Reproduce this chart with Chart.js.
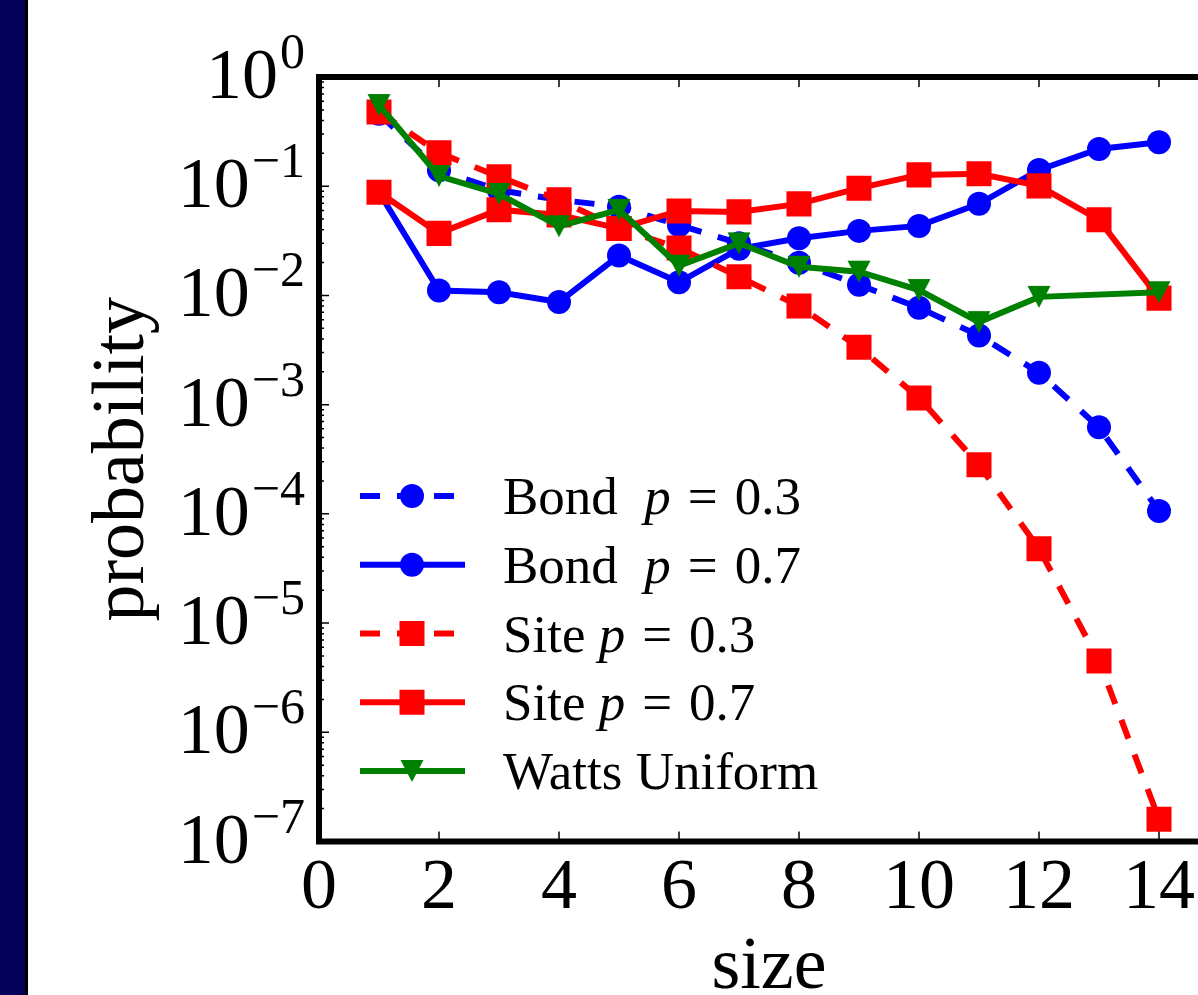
<!DOCTYPE html>
<html>
<head>
<meta charset="utf-8">
<script src="https://cdn.jsdelivr.net/npm/chart.js@4.4.0/dist/chart.umd.min.js"></script>
<style>
  html, body { margin: 0; padding: 0; background: #fff; overflow: hidden; }
  #wrap { position: relative; width: 1198px; height: 995px; overflow: hidden; }
  #sidebar { position: absolute; left: 0; top: 0; width: 25px; height: 995px; background: #03005a; border-right: 3px solid #000; }
  canvas { position: absolute; left: 0; top: 0; }
</style>
</head>
<body>
<div id="wrap">
  <canvas id="sizeChart" width="1260" height="995"></canvas>
  <div id="sidebar"></div>
</div>
<script>
// values (log y axis)
const sizes = [1, 2, 3, 4, 5, 6, 7, 8, 9, 10, 11, 12, 13, 14];
const bondP03 = [0.46, 0.14, 0.092, 0.075, 0.065, 0.044, 0.03, 0.0199, 0.0125, 0.0077, 0.0043, 0.00196, 0.00062, 0.000106];
const bondP07 = [0.088, 0.0111, 0.0107, 0.0087, 0.0232, 0.0132, 0.0267, 0.0334, 0.039, 0.0433, 0.069, 0.141, 0.219, 0.253];
const siteP03 = [0.479, 0.202, 0.122, 0.075, 0.041, 0.0272, 0.0148, 0.008, 0.00335, 0.00115, 0.000282, 0.0000479, 0.0000045, 1.6e-7];
const siteP07 = [0.088, 0.037, 0.061, 0.0546, 0.041, 0.0594, 0.0582, 0.0689, 0.096, 0.127, 0.130, 0.1007, 0.0492, 0.00945];
const wattsUniform = [0.554, 0.124, 0.085, 0.043, 0.0607, 0.0187, 0.030, 0.0183, 0.0165, 0.0112, 0.0057, 0.0097, null, 0.0107];

const xTicks = [0, 2, 4, 6, 8, 10, 12, 14];
const yTickExps = [0, -1, -2, -3, -4, -5, -6, -7];
const legendLabels = ['Bond  $p = 0.3$', 'Bond  $p = 0.7$', 'Site $p = 0.3$', 'Site $p = 0.7$', 'Watts Uniform'];

const FONT = '"Liberation Serif", "Times New Roman", serif';

// matplotlib style 'v' marker
function makeTriangle(color) {
  const c = document.createElement('canvas');
  c.width = 24; c.height = 24;
  const g = c.getContext('2d');
  g.fillStyle = color;
  g.beginPath();
  g.moveTo(0.5, 1); g.lineTo(23.5, 1); g.lineTo(12, 23);
  g.closePath();
  g.fill();
  return c;
}
const greenTri = makeTriangle('#008000');

function series(data, color, style, dashed, order) {
  return {
    data: data,
    borderColor: color,
    backgroundColor: color,
    pointBackgroundColor: color,
    pointBorderWidth: 0,
    pointStyle: style,
    pointRadius: style === 'rect' ? 17.7 : 12,
    borderWidth: 6,
    borderDash: dashed ? [20, 17] : [],
    tension: 0,
    spanGaps: true,
    order: order
  };
}

const datasets = [
  series(bondP03, '#0000ff', 'circle', true, 4),
  series(bondP07, '#0000ff', 'circle', false, 3),
  series(siteP03, '#ff0000', 'rect', true, 2),
  series(siteP07, '#ff0000', 'rect', false, 1),
  series(wattsUniform, '#008000', greenTri, false, 0)
];

// axes, ticks, labels and legend drawn the matplotlib way
const mplAxes = {
  id: 'mplAxes',
  afterDraw(chart) {
    const ctx = chart.ctx;
    const { left, right, top, bottom } = chart.chartArea;
    const xs = chart.scales.x, ys = chart.scales.y;
    ctx.save();
    ctx.strokeStyle = '#000';
    ctx.fillStyle = '#000';

    // inward ticks
    ctx.lineWidth = 1.5;
    ctx.beginPath();
    xTicks.forEach(v => {
      const px = xs.getPixelForValue(v);
      ctx.moveTo(px, bottom); ctx.lineTo(px, bottom - 10);
      ctx.moveTo(px, top); ctx.lineTo(px, top + 10);
    });
    yTickExps.forEach(e => {
      const py = ys.getPixelForValue(Math.pow(10, e));
      ctx.moveTo(left, py); ctx.lineTo(left + 10, py);
      ctx.moveTo(right, py); ctx.lineTo(right - 10, py);
      if (e > -7) {
        for (let m = 2; m <= 9; m++) {
          const pm = ys.getPixelForValue(m * Math.pow(10, e - 1));
          ctx.moveTo(left, pm); ctx.lineTo(left + 5, pm);
          ctx.moveTo(right, pm); ctx.lineTo(right - 5, pm);
        }
      }
    });
    ctx.stroke();

    // spines
    ctx.lineWidth = 6;
    ctx.strokeRect(left, top, right - left, bottom - top);

    // x tick labels
    ctx.textBaseline = 'alphabetic';
    ctx.textAlign = 'center';
    ctx.font = '72px ' + FONT;
    xTicks.forEach(v => ctx.fillText(String(v), xs.getPixelForValue(v), bottom + 66));

    // y tick labels 10^e
    yTickExps.forEach(e => {
      const py = ys.getPixelForValue(Math.pow(10, e));
      const expText = e === 0 ? '0' : '\u2212' + Math.abs(e);
      ctx.textAlign = 'right';
      ctx.font = '50px ' + FONT;
      ctx.fillText(expText, left - 14, py - 9);
      const w = ctx.measureText(expText).width;
      ctx.font = '72px ' + FONT;
      ctx.fillText('10', left - 14 - w - 2, py + 21);
    });

    // axis titles
    ctx.font = '74px ' + FONT;
    ctx.textAlign = 'center';
    ctx.fillText('size', (left + right) / 2, 988);
    ctx.save();
    ctx.translate(143, (top + bottom) / 2);
    ctx.rotate(-Math.PI / 2);
    ctx.fillText('probability', 0, 0);
    ctx.restore();

    // legend
    const rowY0 = 496, rowStep = 68.75;
    const lineX0 = 360, lineX1 = 465, markX = 412, textX = 503;
    datasets.forEach((ds, i) => {
      const y = rowY0 + i * rowStep;
      ctx.strokeStyle = ds.borderColor;
      ctx.lineWidth = ds.borderWidth;
      ctx.setLineDash(ds.borderDash);
      ctx.beginPath();
      ctx.moveTo(lineX0, y); ctx.lineTo(lineX1, y);
      ctx.stroke();
      ctx.setLineDash([]);
      ctx.fillStyle = ds.borderColor;
      if (ds.pointStyle === 'circle') {
        ctx.beginPath(); ctx.arc(markX, y, 12, 0, Math.PI * 2); ctx.fill();
      } else if (ds.pointStyle === 'rect') {
        ctx.fillRect(markX - 12.5, y - 12.5, 25, 25);
      } else {
        ctx.drawImage(ds.pointStyle, markX - 12, y - 12);
      }

      ctx.fillStyle = '#000';
      ctx.textAlign = 'left';
      const parts = legendLabels[i].split('$');
      let tx = textX;
      const base = y + 18;
      ctx.font = '53px ' + FONT;
      ctx.fillText(parts[0], tx, base);
      tx += ctx.measureText(parts[0]).width;
      if (parts[1]) {
        parts[1].split(' ').forEach(tok => {
          ctx.font = (/^[a-z]$/.test(tok) ? 'italic ' : '') + '53px ' + FONT;
          ctx.fillText(tok, tx, base);
          tx += ctx.measureText(tok).width + 17;
        });
      }
    });
    ctx.restore();
  }
};

const config = {
  type: 'line',
  data: { labels: sizes, datasets: datasets },
  options: {
    responsive: false,
    animation: false,
    devicePixelRatio: 1,
    layout: { padding: { left: 319, top: 77, right: 41, bottom: 153.5 } },
    plugins: { legend: { display: false }, tooltip: { enabled: false } },
    scales: {
      x: { type: 'linear', min: 0, max: 15, display: false },
      y: { type: 'logarithmic', min: 1e-7, max: 1, display: false }
    }
  },
  plugins: [mplAxes]
};

const ctx = document.getElementById('sizeChart').getContext('2d');
new Chart(ctx, config);
</script>
</body>
</html>
